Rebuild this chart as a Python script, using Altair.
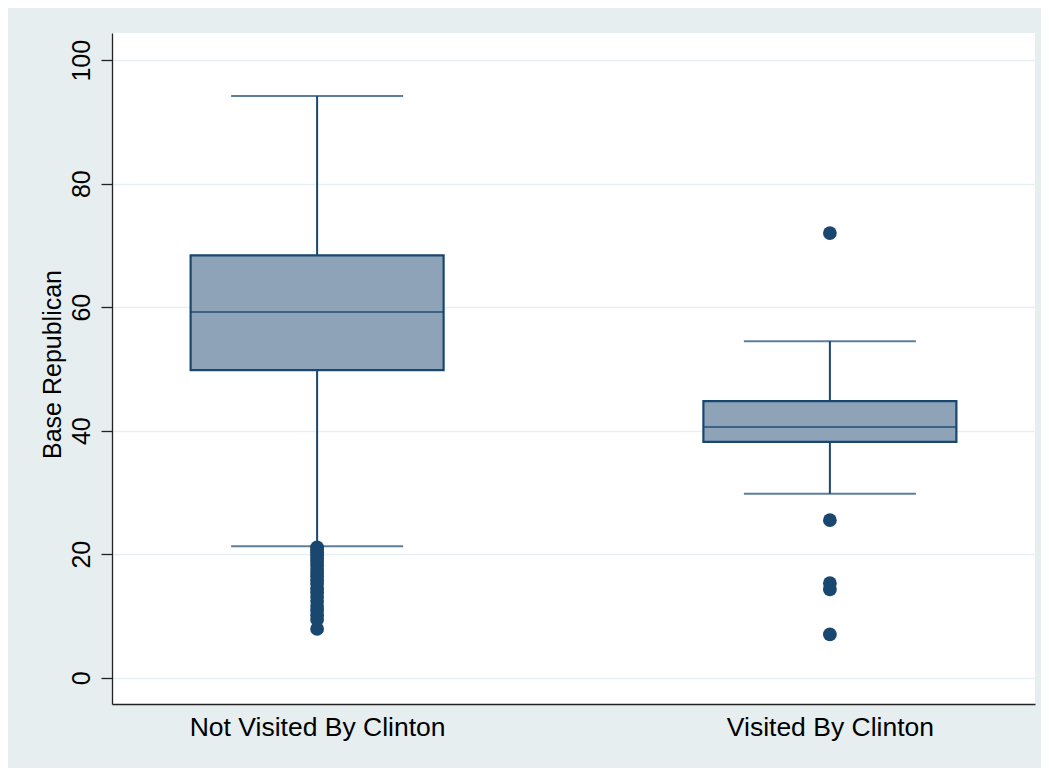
import altair as alt
import pandas as pd

groups = ["Not Visited By Clinton", "Visited By Clinton"]
q1 = [49.8, 38.2]
median = [59.2, 40.6]
q3 = [68.4, 44.8]
whisk_lo = [21.3, 29.8]
whisk_hi = [94.2, 54.5]

out_not = [21.1, 20.7, 20.3, 19.8, 19.3, 18.8, 18.2, 17.6, 17.0, 16.4, 15.8,
           15.2, 14.5, 13.8, 13.1, 12.4, 11.6, 10.9, 10.1, 9.4, 7.9]
out_vis = [72.0, 25.5, 15.3, 14.3, 7.0]

y_ticks = [0, 20, 40, 60, 80, 100]

NAVY = "#1a476f"
FILL = "#8ea3b8"
FONT = "Liberation Sans"

stats = pd.DataFrame({"g": groups, "q1": q1, "med": median, "q3": q3,
                      "lo": whisk_lo, "hi": whisk_hi})
outs = pd.DataFrame({"g": [groups[0]] * len(out_not) + [groups[1]] * len(out_vis),
                     "v": out_not + out_vis})

xenc = alt.X("g:N", sort=groups, title=None,
             scale=alt.Scale(type="point", padding=0.4),
             axis=alt.Axis(ticks=False, labelAngle=0, labelPadding=10, labelFontSize=26.5,
                           labelLimit=1000,
                           labelFont=FONT, labelColor="black", domainColor="#222222",
                           domainWidth=1.3, grid=False))
yscale = alt.Scale(domain=[-4.26, 104.4], nice=False, zero=False)
yaxis = alt.Axis(values=y_ticks, labelAngle=270, labelAlign="center",
                 labelBaseline="alphabetic", labelPadding=12, tickSize=11,
                 labelFontSize=25, labelFont=FONT, labelColor="black",
                 tickColor="#222222", tickWidth=1.3, domainColor="#222222", domainWidth=1.3,
                 grid=True, gridColor="#e6eff2", gridWidth=1.6,
                 title="Base Republican", titleFont=FONT, titleFontSize=25,
                 titleFontWeight="normal", titleColor="black", titleAngle=270,
                 titleAlign="center", titleBaseline="alphabetic", titleX=-52, titleY=331)

base = alt.Chart(stats)

whisk = base.mark_rule(color=NAVY, strokeWidth=2).encode(
    x=xenc, y=alt.Y("lo:Q", scale=yscale, axis=yaxis), y2="hi:Q")
box = base.mark_bar(fill=FILL, stroke=NAVY, strokeWidth=2.2, size=253).encode(
    x=xenc, y=alt.Y("q1:Q", scale=yscale), y2="q3:Q")
med = base.mark_tick(color=NAVY, size=253, thickness=2).encode(
    x=xenc, y=alt.Y("med:Q", scale=yscale))
cap_lo = base.mark_tick(color=NAVY, size=172, thickness=2).encode(
    x=xenc, y=alt.Y("lo:Q", scale=yscale))
cap_hi = base.mark_tick(color=NAVY, size=172, thickness=2).encode(
    x=xenc, y=alt.Y("hi:Q", scale=yscale))
pts = alt.Chart(outs).mark_circle(color=NAVY, opacity=1, size=190).encode(
    x=xenc, y=alt.Y("v:Q", scale=yscale))

chart = alt.layer(whisk, box, med, cap_lo, cap_hi, pts).properties(
    width=923, height=671,
    background="#e6eef0",
    padding={"left": 104, "top": 25, "right": 6, "bottom": 64},
    autosize=alt.AutoSizeParams(type="none"),
).configure_view(fill="white", stroke=None)

chart.save("out.html", embed_options={"renderer": "svg", "actions": False})
